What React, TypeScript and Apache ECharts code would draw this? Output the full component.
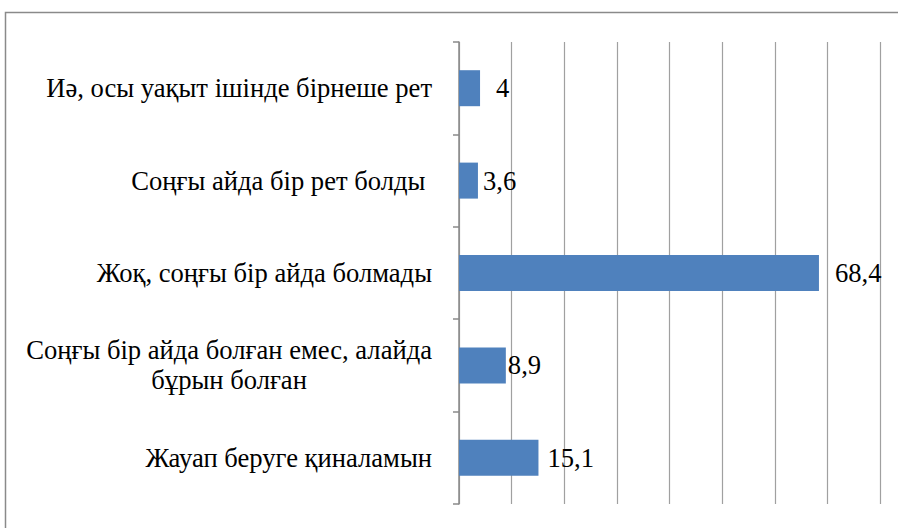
import React, { useEffect, useRef } from "react";
import * as echarts from "echarts";

const categories = [
  "Иә, осы уақыт ішінде бірнеше рет",
  "Соңғы айда бір рет болды ",
  "Жоқ, соңғы бір айда болмады",
  "Соңғы бір айда болған емес, алайда\nбұрын болған",
  "Жауап беруге қиналамын",
];
const values = [4, 3.6, 68.4, 8.9, 15.1];
const valueLabels = ["4", "3,6", "68,4", "8,9", "15,1"];
const labelGaps = [16, 5, 16, 2, 9];

const FONT = "Liberation Serif";
const FS = 26.6;

export default function App() {
  const ref = useRef<HTMLDivElement>(null);
  useEffect(() => {
    if (!ref.current) return;
    const chart = echarts.init(ref.current, null, { renderer: "svg" });
    chart.setOption({
      animation: false,
      backgroundColor: "#ffffff",
      graphic: [
        {
          type: "rect",
          shape: { x: 5.5, y: 12.5, width: 1000, height: 1000 },
          style: { fill: "none", stroke: "#8a8a8a", lineWidth: 1.5 },
          silent: true,
          z: -10,
        },
      ],
      grid: { left: 459, top: 42, right: 18, bottom: 24, containLabel: false },
      xAxis: {
        type: "value",
        min: 0,
        max: 80,
        interval: 10,
        axisLine: { show: false },
        axisTick: { show: false },
        axisLabel: { show: false },
        splitLine: { show: true, lineStyle: { color: "#a0a0a0", width: 1.2 } },
      },
      yAxis: {
        type: "category",
        inverse: true,
        data: categories,
        axisLine: { show: true, lineStyle: { color: "#8a8a8a", width: 1.5 } },
        axisTick: { show: true, length: 6, lineStyle: { color: "#8a8a8a", width: 1.5 } },
        axisLabel: {
          margin: 27,
          fontFamily: FONT,
          fontSize: FS,
          color: "#000",
          formatter: (v: string) =>
            v
              .split("\n")
              .map((l) => `{a|${l}}`)
              .join("\n"),
          rich: {
            a: {
              align: "center",
              fontFamily: FONT,
              fontSize: FS,
              color: "#000",
              lineHeight: 30,
            },
          },
        },
      },
      series: [
        {
          type: "bar",
          barWidth: 36,
          itemStyle: { color: "#4F81BD" },
          label: {
            show: true,
            position: "right",
            fontFamily: FONT,
            fontSize: FS,
            color: "#000",
            formatter: (p: any) => valueLabels[p.dataIndex],
          },
          data: values.map((v, i) => ({
            value: v,
            label: { distance: labelGaps[i] },
          })),
        },
      ],
    });
    return () => chart.dispose();
  }, []);
  return (
    <div
      ref={ref}
      style={{ position: "fixed", left: 0, top: 0, width: 898, height: 528 }}
    />
  );
}
